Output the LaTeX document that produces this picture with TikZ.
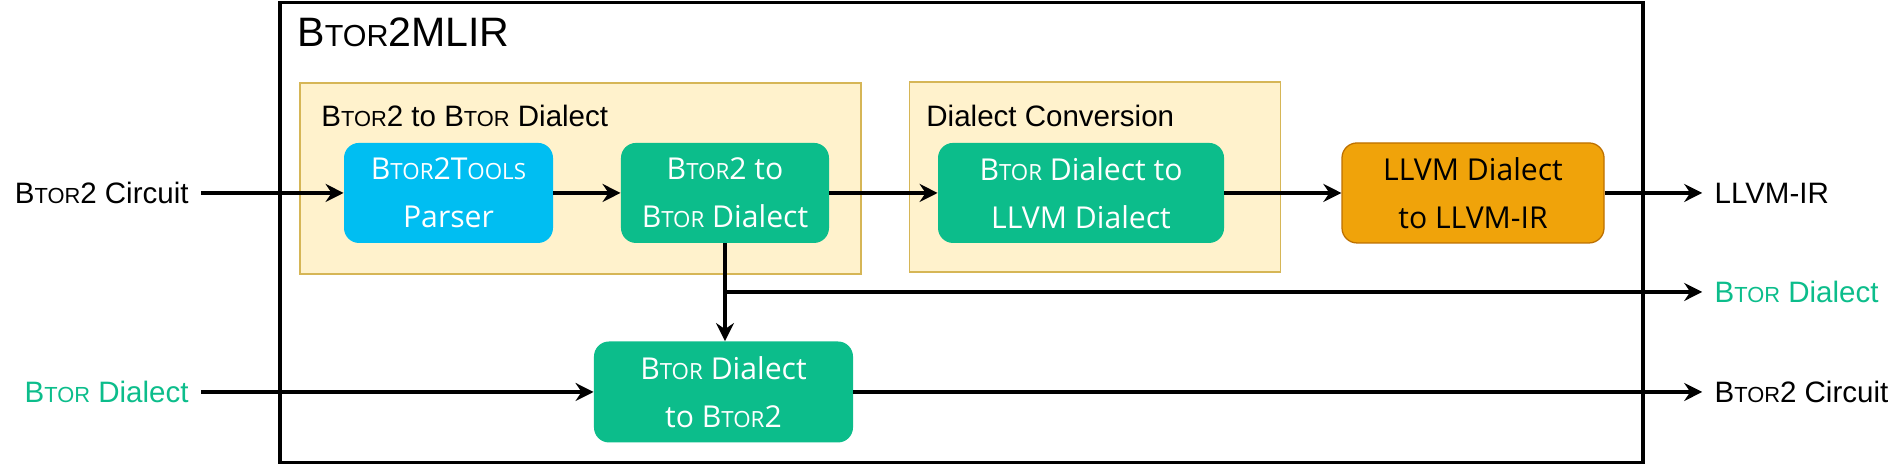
\documentclass[tikz,border=0pt]{standalone}
\usepackage{graphicx}
\usepackage{fontspec}
\setmainfont{Liberation Sans}
\newfontfamily\boxfont{Open Sans}
\usetikzlibrary{arrows.meta}
\definecolor{groupfill}{HTML}{FFF2CC}
\definecolor{groupline}{HTML}{D6B656}
\definecolor{parserblue}{HTML}{00BEF2}
\definecolor{btorgreen}{HTML}{0CBD8B}
\definecolor{llvmorange}{HTML}{F0A30A}
\definecolor{llvmline}{HTML}{BD7000}
\newcommand{\smc}[1]{\scalebox{0.74}{#1}}
\newcommand{\btor}{B\smc{TOR}}
\tikzstyle{group} = [rectangle, draw=groupline, line width=0.5pt, fill=groupfill]
\tikzstyle{stage} = [rectangle, rounded corners=0.25cm, minimum height=1.667cm, align=center, text=white, font=\boxfont\fontsize{14.3}{22.8}\selectfont]
\tikzstyle{io} = [inner xsep=0.2cm, font=\fontsize{14}{16}\selectfont]
\tikzstyle{label} = [anchor=base west, inner sep=0pt, font=\fontsize{14}{16}\selectfont]
\tikzstyle{arrow} = [line width=1.7pt,-{Stealth[length=0.3cm,width=0.3cm,inset=0.1cm]}]

\begin{document}
\begin{tikzpicture}
        \useasboundingbox (0,0) rectangle (31.65,7.733);
        \node [draw, line width=1.6pt, minimum width=22.717cm, minimum height=7.667cm] at (16.025,3.858) (btormlir) {};
        \node [anchor=base west, inner sep=0pt, font=\fontsize{19.5}{21}\selectfont] at (4.95,6.955) (title) {\btor2MLIR};
        % groups
        \node [group, minimum width=9.35cm, minimum height=3.183cm] at (9.675,4.758) (lowering) {};
        \node [group, minimum width=6.183cm, minimum height=3.167cm] at (18.242,4.783) (conversion) {};
        \node [label] at (5.35,5.617) (lowerlabel) {\btor2 to \btor{} Dialect};
        \node [label] at (15.433,5.617) (convlabel) {Dialect Conversion};
        % stages
        \node [stage, fill=parserblue, minimum width=3.483cm] at (7.475,4.517) (parser) {\btor2T\smc{OOLS}\\Parser};
        \node [stage, fill=btorgreen, minimum width=3.467cm] at (12.083,4.517) (todialect) {\btor2 to\\\btor{} Dialect};
        \node [stage, fill=btorgreen, minimum width=4.767cm] at (18.017,4.517) (tollvm) {\btor{} Dialect to\\LLVM Dialect};
        \node [stage, fill=llvmorange, draw=llvmline, line width=0.6pt, text=black, minimum width=4.367cm] at (24.55,4.517) (toir) {LLVM Dialect\\to LLVM-IR};
        \node [stage, fill=btorgreen, minimum width=4.317cm, minimum height=1.683cm] at (12.058,1.2) (tobtor) {\btor{} Dialect\\to \btor2};
        % inputs and outputs
        \node [io, anchor=east] at (3.35,4.517) (circuitin) {\btor2 Circuit};
        \node [io, anchor=east, text=btorgreen] at (3.35,1.2) (dialectin) {\btor{} Dialect};
        \node [io, anchor=west] at (28.37,4.517) (irout) {LLVM-IR};
        \node [io, anchor=west, text=btorgreen] at (28.37,2.867) (dialectout) {\btor{} Dialect};
        \node [io, anchor=west] at (28.37,1.2) (circuitout) {\btor2 Circuit};
        \draw [arrow] (circuitin) -- (parser);
        \draw [arrow] (parser) -- (todialect);
        \draw [arrow] (todialect) -- (tollvm);
        \draw [arrow] (tollvm) -- (toir);
        \draw [arrow] (toir) -- (irout);
        \draw [arrow] (todialect.south) -- (todialect.south |- tobtor.north);
        \draw [arrow] (todialect.south |- dialectout.west) -- (dialectout);
        \draw [arrow] (dialectin) -- (tobtor);
        \draw [arrow] (tobtor) -- (circuitout);
        \end{tikzpicture}
\end{document}
